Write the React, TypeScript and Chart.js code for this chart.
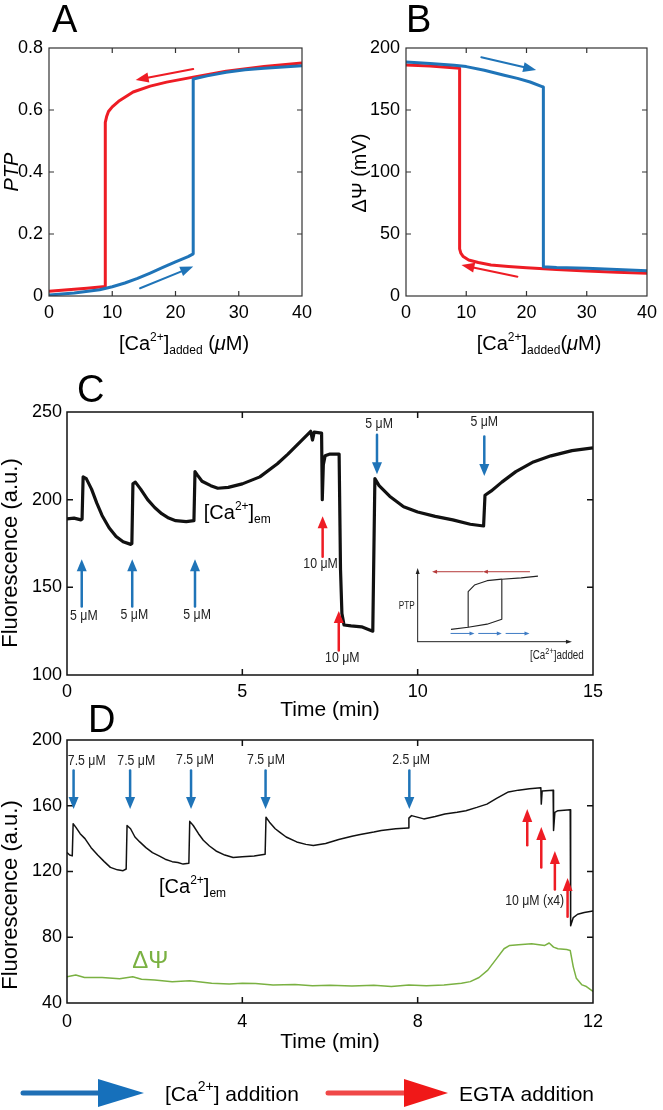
import React, { useEffect, useRef } from "react";
import { Chart, registerables } from "chart.js";

Chart.register(...registerables);

const FONT = "'Liberation Sans', Arial, Helvetica, sans-serif";
const NARROW = "'Liberation Sans', Arial, sans-serif";
const NARROW_SCALE = 0.82;
const BLUE = "#1f74b8";
const RED = "#ee1c24";
const GREEN = "#7ab142";
const INK = "#111111";

// ---------------- Panel A : PTP vs [Ca2+]added ----------------
const aXTicks = [0, 10, 20, 30, 40];
const aYTicks = [0, 0.2, 0.4, 0.6, 0.8];
const aCaRising: [number, number][] = [
  [0, 0.003], [4, 0.01], [8, 0.02], [10, 0.03], [12, 0.042], [14, 0.057], [16, 0.074],
  [18, 0.092], [20, 0.11], [22, 0.127], [22.8, 0.136], [22.8, 0.7], [25, 0.71], [28, 0.722],
  [31, 0.73], [34, 0.735], [37, 0.739], [40, 0.743],
];
const aCaFalling: [number, number][] = [
  [40, 0.752], [34, 0.74], [28, 0.725], [22.8, 0.706], [18.6, 0.69], [16, 0.677], [13.3, 0.658],
  [11, 0.628], [10, 0.61], [9.4, 0.595], [9.1, 0.578], [8.9, 0.56], [8.9, 0.031], [6, 0.025],
  [3, 0.02], [0, 0.015],
];
const aArrowAdd: [number, number][] = [[14.4, 0.025], [22.8, 0.095]];
const aArrowRemove: [number, number][] = [[22.8, 0.732], [13.7, 0.697]];

// ---------------- Panel B : ΔΨ vs [Ca2+]added ----------------
const bXTicks = [0, 10, 20, 30, 40];
const bYTicks = [0, 50, 100, 150, 200];
const bCaRising: [number, number][] = [
  [0, 188.7], [4, 187.5], [8, 186], [10, 185], [13, 182], [16.3, 178], [18.5, 175.5],
  [20.6, 172.6], [22.8, 168.5], [22.8, 23.6], [25, 23], [30, 22.3], [35, 21.3], [40, 20.3],
];
const bCaFalling: [number, number][] = [
  [40, 18.3], [35, 19.2], [30, 20.2], [25, 21.4], [20, 22.8], [17, 23.8], [14.1, 25], [12, 27],
  [10.4, 29], [9.5, 31.8], [9.1, 34.5], [8.9, 38], [8.9, 183.6], [4, 185.5], [0, 186.3],
];
const bArrowAdd: [number, number][] = [[12.5, 192.5], [21.6, 182.3]];
const bArrowRemove: [number, number][] = [[18.5, 15.6], [9.2, 25]];

// ---------------- Panel C : fluorescence trace ----------------
const cXTicks = [0, 5, 10, 15];
const cYTicks = [100, 150, 200, 250];
const cTrace: [number, number][] = [
  [0, 189], [0.2, 189.5], [0.4, 188.5], [0.43, 189], [0.46, 213], [0.55, 212], [0.7, 206],
  [0.85, 198], [1.0, 191], [1.2, 184], [1.4, 179], [1.6, 176], [1.82, 174.5], [1.85, 175],
  [1.88, 209], [1.95, 210], [2.1, 206], [2.3, 200], [2.5, 195.5], [2.7, 192], [2.9, 189.5],
  [3.1, 188], [3.4, 187.5], [3.62, 188], [3.65, 216], [3.72, 214], [3.85, 210.5], [4.1, 208],
  [4.3, 206.5], [4.6, 207], [5.0, 209], [5.5, 213], [6.0, 220.5], [6.3, 226], [6.6, 232],
  [6.85, 237], [6.95, 239], [7.0, 234], [7.05, 238.5], [7.26, 238], [7.28, 200], [7.31, 220],
  [7.36, 225], [7.5, 226], [7.76, 226], [7.8, 160], [7.84, 135], [7.9, 128.5], [8.1, 128],
  [8.4, 127.5], [8.72, 125], [8.78, 212], [8.9, 208], [9.2, 202], [9.6, 196], [10.0, 193],
  [10.5, 190.5], [11.0, 188.5], [11.5, 186], [11.88, 185], [11.92, 202.5], [12.1, 205],
  [12.4, 210], [12.8, 216], [13.3, 221.5], [13.8, 225], [14.4, 228], [15, 229.5],
];
// arrows: x, tail y, head y ; labels: text, x, y
const cCaArrows: [number, number, number][] = [
  [0.42, 139, 166], [1.86, 139, 166], [3.65, 139, 166], [8.84, 237, 214.5], [11.9, 236, 213.5],
];
const cCaLabels: [string, number, number][] = [
  ["5 μM", 0.48, 134], ["5 μM", 1.92, 134.5], ["5 μM", 3.71, 134.5], ["5 μM", 8.9, 243.4],
  ["5 μM", 11.9, 244.3],
];
const cEgtaArrows: [number, number, number][] = [[7.29, 167.5, 190.5], [7.75, 114, 136.5]];
const cEgtaLabels: [string, number, number][] = [["10 μM", 7.23, 163.5], ["10 μM", 7.85, 110]];
const cEmLabel: [number, number] = [3.9, 193];
// inset hysteresis sketch (in panel C data units)
const cInsetOpen: [number, number][] = [
  [10.95, 126], [11.44, 127.2], [11.98, 129], [12.4, 131.8], [12.4, 154.6], [12.95, 155.4], [13.43, 156.4],
];
const cInsetClose: [number, number][] = [
  [11.44, 127.2], [11.44, 147.5], [11.62, 151.3], [11.98, 153.8], [12.4, 154.7],
];
const cInsetAxes = { x0: 10.0, y0: 119, xEnd: 14.4, yEnd: 161 };
const cInsetRedArrows: [number, number][] = [[13.19, 11.86], [11.86, 10.41]];
const cInsetRedY = 158.9;
const cInsetBlueArrows: [number, number][] = [[10.95, 11.62], [11.74, 12.4], [12.52, 13.19]];
const cInsetBlueY = 123.7;
const cInsetPTP: [number, number] = [9.69, 139];
const cInsetCa: [number, number] = [13.97, 111.4];

// ---------------- Panel D : fluorescence traces ----------------
const dXTicks = [0, 4, 8, 12];
const dYTicks = [40, 80, 120, 160, 200];
const dCaTrace: [number, number][] = [
  [0, 131.5], [0.06, 130], [0.12, 129.5], [0.14, 149], [0.2, 147], [0.3, 143], [0.41, 140],
  [0.55, 134.5], [0.7, 130], [0.85, 126], [0.99, 122.5], [1.15, 121], [1.28, 120.5], [1.35, 121.5],
  [1.37, 148], [1.45, 146], [1.55, 141], [1.66, 138], [1.8, 134.5], [1.95, 131.5], [2.1, 129.5],
  [2.24, 127.5], [2.4, 126], [2.53, 125.5], [2.65, 124.5], [2.78, 125], [2.8, 150.5], [2.88, 148],
  [3.0, 143], [3.11, 139], [3.25, 135.5], [3.4, 132.5], [3.6, 130], [3.79, 128.5], [4.0, 129],
  [4.27, 129.5], [4.52, 130.5], [4.54, 153], [4.62, 150], [4.75, 146], [4.85, 144], [5.0, 141],
  [5.24, 138], [5.45, 136.5], [5.62, 135.8], [5.9, 137], [6.2, 139.5], [6.5, 141.5], [6.69, 142.5],
  [7.0, 144], [7.17, 145], [7.5, 146], [7.78, 146.5], [7.8, 152.5], [7.86, 154], [8.14, 152],
  [8.4, 153.5], [8.62, 155], [8.9, 156], [9.1, 157], [9.35, 159], [9.58, 161], [9.8, 164.5],
  [10.07, 168.4], [10.3, 169.5], [10.55, 170.4], [10.81, 171], [10.82, 161], [10.84, 169],
  [11.09, 169.4], [11.1, 145], [11.13, 156], [11.2, 157], [11.48, 157.5], [11.49, 87], [11.55, 92],
  [11.65, 94], [11.8, 95], [12, 96],
];
const dPsiTrace: [number, number][] = [
  [0, 56], [0.2, 57], [0.4, 55.5], [0.8, 55.5], [1.2, 54.8], [1.5, 56], [1.7, 54.5], [2.0, 54],
  [2.4, 53], [2.8, 53.5], [3.0, 53], [3.3, 52], [3.7, 51.5], [4.0, 52], [4.3, 51.8], [4.7, 51],
  [5.2, 51.2], [5.6, 50.5], [6.0, 50.8], [6.5, 50.3], [7.0, 50.8], [7.4, 50], [7.8, 51], [8.2, 50.5],
  [8.6, 51], [9.0, 52], [9.2, 53], [9.4, 55.5], [9.6, 60], [9.8, 67], [9.97, 73], [10.1, 75],
  [10.3, 75.5], [10.6, 76], [10.9, 75], [11.0, 76.5], [11.1, 74], [11.2, 73], [11.4, 72.5],
  [11.48, 72], [11.55, 62], [11.62, 55], [11.75, 51], [11.85, 50], [12, 47],
];
const dCaArrows: [number, number, number][] = [
  [0.15, 181.5, 158], [1.44, 181.5, 158], [2.83, 181.5, 158], [4.53, 181.5, 158], [7.81, 181.5, 158],
];
const dCaLabels: [string, number, number][] = [
  ["7.5 μM", 0.45, 187.5], ["7.5 μM", 1.58, 187.5], ["7.5 μM", 2.92, 187.8], ["7.5 μM", 4.54, 187.8],
  ["2.5 μM", 7.85, 188],
];
const dEgtaArrows: [number, number, number][] = [
  [10.5, 136, 158], [10.82, 122.5, 147], [11.13, 109, 132.5], [11.42, 92.5, 116],
];
const dEgtaLabel: [string, number, number] = ["10 μM (x4)", 10.67, 102];
const dEmLabel: [number, number] = [2.1, 111.3];
const dPsiLabel: [number, number] = [1.49, 65.5];

// ---------------- helpers ----------------
type Seg = { t: string; size: number; dy?: number; italic?: boolean; family?: string };
const fontOf = (s: Seg) => `${s.italic ? "italic " : ""}${s.size}px ${s.family || FONT}`;

function drawRich(ctx: CanvasRenderingContext2D, segs: Seg[], x: number, y: number, align: "left" | "center", color: string, sx = 1) {
  ctx.save();
  ctx.fillStyle = color;
  ctx.textAlign = "left";
  ctx.textBaseline = "alphabetic";
  let w = 0;
  for (const s of segs) {
    ctx.font = fontOf(s);
    w += ctx.measureText(s.t).width;
  }
  ctx.translate(x, y);
  ctx.scale(sx, 1);
  let cx = align === "center" ? -w / 2 : 0;
  for (const s of segs) {
    ctx.font = fontOf(s);
    ctx.fillText(s.t, cx, s.dy || 0);
    cx += ctx.measureText(s.t).width;
  }
  ctx.restore();
}

function drawArrow(ctx: CanvasRenderingContext2D, x1: number, y1: number, x2: number, y2: number, color: string, lw: number, hl: number, hw: number, headColor?: string) {
  const ang = Math.atan2(y2 - y1, x2 - x1);
  const bx = x2 - hl * Math.cos(ang);
  const by = y2 - hl * Math.sin(ang);
  ctx.save();
  ctx.strokeStyle = color;
  ctx.lineWidth = lw;
  ctx.lineCap = "round";
  ctx.beginPath();
  ctx.moveTo(x1, y1);
  ctx.lineTo(bx + Math.cos(ang), by + Math.sin(ang));
  ctx.stroke();
  ctx.fillStyle = headColor || color;
  ctx.beginPath();
  ctx.moveTo(x2, y2);
  ctx.lineTo(bx + (hw / 2) * Math.sin(ang), by - (hw / 2) * Math.cos(ang));
  ctx.lineTo(bx - (hw / 2) * Math.sin(ang), by + (hw / 2) * Math.cos(ang));
  ctx.closePath();
  ctx.fill();
  ctx.restore();
}

function vText(ctx: CanvasRenderingContext2D, text: string, x: number, y: number, font: string) {
  ctx.save();
  ctx.translate(x, y);
  ctx.rotate(-Math.PI / 2);
  ctx.font = font;
  ctx.fillStyle = "#000";
  ctx.textAlign = "center";
  ctx.textBaseline = "middle";
  ctx.fillText(text, 0, 0);
  ctx.restore();
}

function hText(ctx: CanvasRenderingContext2D, text: string, x: number, y: number, font: string, color = "#000", align: CanvasTextAlign = "center", sx = 1) {
  ctx.save();
  ctx.translate(x, y);
  ctx.scale(sx, 1);
  ctx.font = font;
  ctx.fillStyle = color;
  ctx.textAlign = align;
  ctx.textBaseline = "middle";
  ctx.fillText(text, 0, 0);
  ctx.restore();
}

function letter(ctx: CanvasRenderingContext2D, t: string, x: number, y: number) {
  ctx.save();
  ctx.font = `38px ${FONT}`;
  ctx.fillStyle = "#000";
  ctx.textAlign = "left";
  ctx.textBaseline = "alphabetic";
  ctx.fillText(t, x, y);
  ctx.restore();
}

function framePlugin(color: string, lw: number, tickLen: number) {
  return {
    id: "frame",
    afterDatasetsDraw(chart: any) {
      const { ctx, chartArea: a, scales } = chart;
      ctx.save();
      ctx.strokeStyle = color;
      ctx.lineWidth = lw;
      ctx.strokeRect(a.left, a.top, a.right - a.left, a.bottom - a.top);
      ctx.beginPath();
      for (const t of scales.x.ticks) {
        const p = scales.x.getPixelForValue(t.value);
        if (p <= a.left + 1 || p >= a.right - 1) continue;
        ctx.moveTo(p, a.bottom);
        ctx.lineTo(p, a.bottom - tickLen);
        ctx.moveTo(p, a.top);
        ctx.lineTo(p, a.top + tickLen);
      }
      for (const t of scales.y.ticks) {
        const p = scales.y.getPixelForValue(t.value);
        if (p >= a.bottom - 1 || p <= a.top + 1) continue;
        ctx.moveTo(a.left, p);
        ctx.lineTo(a.left + tickLen, p);
        ctx.moveTo(a.right, p);
        ctx.lineTo(a.right - tickLen, p);
      }
      ctx.stroke();
      ctx.restore();
    },
  };
}

type Area = { l: number; r: number; t: number; b: number };

function makeOptions(xTicks: number[], yTicks: number[], area: Area, w: number, h: number, xPad: number, yPad: number) {
  const tickFont = { family: FONT, size: 18 };
  return {
    responsive: false,
    animation: false as const,
    devicePixelRatio: 1,
    layout: { padding: { left: 0, top: area.t, right: w - area.r, bottom: 0 } },
    plugins: { legend: { display: false }, tooltip: { enabled: false }, title: { display: false } },
    elements: { point: { radius: 0 }, line: { tension: 0 } },
    scales: {
      x: {
        type: "linear" as const,
        min: xTicks[0],
        max: xTicks[xTicks.length - 1],
        afterBuildTicks: (s: any) => {
          s.ticks = xTicks.map((v) => ({ value: v }));
        },
        afterFit: (s: any) => {
          s.height = h - area.b;
        },
        ticks: { font: tickFont, color: "#000", padding: xPad, maxRotation: 0, autoSkip: false, callback: (v: any) => String(v) },
        grid: { display: false, drawTicks: false },
        border: { display: false },
      },
      y: {
        type: "linear" as const,
        min: yTicks[0],
        max: yTicks[yTicks.length - 1],
        afterBuildTicks: (s: any) => {
          s.ticks = yTicks.map((v) => ({ value: v }));
        },
        afterFit: (s: any) => {
          s.width = area.l;
        },
        ticks: { font: tickFont, color: "#000", padding: yPad, autoSkip: false, callback: (v: any) => String(v) },
        grid: { display: false, drawTicks: false },
        border: { display: false },
      },
    },
  };
}

const toXY = (pts: [number, number][]) => pts.map(([x, y]) => ({ x, y }));

const lineDs = (pts: [number, number][], color: string, width: number) => ({
  type: "line" as const,
  data: toXY(pts),
  borderColor: color,
  backgroundColor: color,
  borderWidth: width,
  pointRadius: 0,
  fill: false,
  tension: 0,
  borderJoinStyle: "round" as const,
});

const caAddedTitle = (spaced: boolean): Seg[] => [
  { t: "[Ca", size: 20 },
  { t: "2+", size: 12, dy: -9 },
  { t: "]", size: 20 },
  { t: "added", size: 12, dy: 4 },
  { t: spaced ? " (" : "(", size: 20 },
  { t: "μ", size: 20, italic: true },
  { t: "M)", size: 20 },
];

const emSegs: Seg[] = [
  { t: "[Ca", size: 20 },
  { t: "2+", size: 12, dy: -9 },
  { t: "]", size: 20 },
  { t: "em", size: 12, dy: 4 },
];

// ---------------- chart configs ----------------
function configA() {
  const area = { l: 49, r: 302, t: 48, b: 296 };
  const w = 331, h = 360;
  return {
    type: "line" as const,
    data: { datasets: [lineDs(aCaRising, BLUE, 3), lineDs(aCaFalling, RED, 3)] },
    options: makeOptions(aXTicks, aYTicks, area, w, h, 6, 6),
    plugins: [
      framePlugin("#333", 1.2, 5),
      {
        id: "panelA",
        afterDraw(chart: any) {
          const { ctx } = chart;
          const sx = chart.scales.x, sy = chart.scales.y;
          const P = (p: [number, number]) => [sx.getPixelForValue(p[0]), sy.getPixelForValue(p[1])];
          const [a1, a2] = [P(aArrowAdd[0]), P(aArrowAdd[1])];
          drawArrow(ctx, a1[0], a1[1], a2[0], a2[1], BLUE, 2, 13, 10);
          const [r1, r2] = [P(aArrowRemove[0]), P(aArrowRemove[1])];
          drawArrow(ctx, r1[0], r1[1], r2[0], r2[1], RED, 2, 13, 10);
          letter(ctx, "A", 52, 32);
          vText(ctx, "PTP", 12, 172, `italic 20px ${FONT}`);
          drawRich(ctx, caAddedTitle(true), 184, 350, "center", "#000");
        },
      },
    ],
  };
}

function configB() {
  const area = { l: 75, r: 322, t: 48, b: 296 };
  const w = 332, h = 360;
  return {
    type: "line" as const,
    data: { datasets: [lineDs(bCaRising, BLUE, 3), lineDs(bCaFalling, RED, 3)] },
    options: makeOptions(bXTicks, bYTicks, area, w, h, 6, 6),
    plugins: [
      framePlugin("#333", 1.2, 5),
      {
        id: "panelB",
        afterDraw(chart: any) {
          const { ctx } = chart;
          const sx = chart.scales.x, sy = chart.scales.y;
          const P = (p: [number, number]) => [sx.getPixelForValue(p[0]), sy.getPixelForValue(p[1])];
          const [a1, a2] = [P(bArrowAdd[0]), P(bArrowAdd[1])];
          drawArrow(ctx, a1[0], a1[1], a2[0], a2[1], BLUE, 2, 13, 10);
          const [r1, r2] = [P(bArrowRemove[0]), P(bArrowRemove[1])];
          drawArrow(ctx, r1[0], r1[1], r2[0], r2[1], RED, 2, 13, 10);
          letter(ctx, "B", 75, 32);
          vText(ctx, "ΔΨ (mV)", 29, 173, `20px ${FONT}`);
          drawRich(ctx, caAddedTitle(false), 208, 350, "center", "#000");
        },
      },
    ],
  };
}

function configC() {
  const area = { l: 67, r: 593, t: 42, b: 305 };
  const w = 663, h = 350;
  return {
    type: "line" as const,
    data: {
      datasets: [
        lineDs(cTrace, INK, 3.2),
        lineDs(cInsetOpen, "#222", 1.1),
        lineDs(cInsetClose, "#222", 1.1),
      ],
    },
    options: makeOptions(cXTicks, cYTicks, area, w, h, 6, 5),
    plugins: [
      framePlugin("#111", 1.5, 6),
      {
        id: "panelC",
        afterDraw(chart: any) {
          const { ctx } = chart;
          const sx = chart.scales.x, sy = chart.scales.y;
          const X = (v: number) => sx.getPixelForValue(v);
          const Y = (v: number) => sy.getPixelForValue(v);
          for (const [x, y0, y1] of cCaArrows) drawArrow(ctx, X(x), Y(y0), X(x), Y(y1), BLUE, 2.5, 12, 10);
          for (const [t, x, y] of cCaLabels) hText(ctx, t, X(x), Y(y), `15px ${NARROW}`, "#222", "center", NARROW_SCALE);
          for (const [x, y0, y1] of cEgtaArrows) drawArrow(ctx, X(x), Y(y0), X(x), Y(y1), RED, 2.5, 12, 10);
          for (const [t, x, y] of cEgtaLabels) hText(ctx, t, X(x), Y(y), `15px ${NARROW}`, "#222", "center", NARROW_SCALE);
          drawRich(ctx, emSegs, X(cEmLabel[0]), Y(cEmLabel[1]) + 7, "left", "#000");
          // inset axes
          const ix0 = X(cInsetAxes.x0), iy0 = Y(cInsetAxes.y0);
          drawArrow(ctx, ix0, iy0, ix0, Y(cInsetAxes.yEnd), "#222", 1, 6, 4);
          drawArrow(ctx, ix0, iy0, X(cInsetAxes.xEnd), iy0, "#222", 1, 6, 4);
          for (const [x1, x2] of cInsetRedArrows) drawArrow(ctx, X(x1), Y(cInsetRedY), X(x2), Y(cInsetRedY), "#b53a3a", 1, 5, 4);
          for (const [x1, x2] of cInsetBlueArrows) drawArrow(ctx, X(x1), Y(cInsetBlueY), X(x2), Y(cInsetBlueY), "#3f7cc4", 1, 5, 4);
          hText(ctx, "PTP", X(cInsetPTP[0]), Y(cInsetPTP[1]), `10px ${NARROW}`, "#222", "center", NARROW_SCALE);
          drawRich(
            ctx,
            [
              { t: "[Ca", size: 12, family: NARROW },
              { t: "2+", size: 9, dy: -5, family: NARROW },
              { t: "]added", size: 12, family: NARROW },
            ],
            X(cInsetCa[0]),
            Y(cInsetCa[1]) + 4,
            "center",
            "#222",
            NARROW_SCALE
          );
          letter(ctx, "C", 77, 32);
          vText(ctx, "Fluorescence (a.u.)", 11, 183, `22px ${FONT}`);
          hText(ctx, "Time (min)", 330, 340, `21px ${FONT}`);
        },
      },
    ],
  };
}

function configD() {
  const area = { l: 67, r: 593, t: 40, b: 303 };
  const w = 663, h = 410;
  return {
    type: "line" as const,
    data: { datasets: [lineDs(dPsiTrace, GREEN, 1.5), lineDs(dCaTrace, INK, 1.5)] },
    options: makeOptions(dXTicks, dYTicks, area, w, h, 8, 5),
    plugins: [
      framePlugin("#111", 1.5, 6),
      {
        id: "panelD",
        afterDraw(chart: any) {
          const { ctx } = chart;
          const sx = chart.scales.x, sy = chart.scales.y;
          const X = (v: number) => sx.getPixelForValue(v);
          const Y = (v: number) => sy.getPixelForValue(v);
          for (const [x, y0, y1] of dCaArrows) drawArrow(ctx, X(x), Y(y0), X(x), Y(y1), BLUE, 2.5, 12, 10);
          for (const [t, x, y] of dCaLabels) hText(ctx, t, X(x), Y(y), `15px ${NARROW}`, "#222", "center", NARROW_SCALE);
          for (const [x, y0, y1] of dEgtaArrows) drawArrow(ctx, X(x), Y(y0), X(x), Y(y1), RED, 2.5, 13, 10);
          hText(ctx, dEgtaLabel[0], X(dEgtaLabel[1]), Y(dEgtaLabel[2]), `15px ${NARROW}`, "#222", "center", NARROW_SCALE);
          drawRich(ctx, emSegs, X(dEmLabel[0]), Y(dEmLabel[1]) + 7, "left", "#000");
          hText(ctx, "ΔΨ", X(dPsiLabel[0]), Y(dPsiLabel[1]), `24px ${FONT}`, GREEN, "left");
          letter(ctx, "D", 88, 32);
          vText(ctx, "Fluorescence (a.u.)", 11, 195, `22px ${FONT}`);
          hText(ctx, "Time (min)", 330, 342, `21px ${FONT}`);
          // legend
          const ly = 393;
          drawArrow(ctx, 23, ly, 144, ly, "#1f6fb5", 5, 46, 28, "#1670bb");
          drawRich(
            ctx,
            [
              { t: "[Ca", size: 21 },
              { t: "2+", size: 14, dy: -10 },
              { t: "] addition", size: 21 },
            ],
            165,
            ly + 8,
            "left",
            "#000"
          );
          drawArrow(ctx, 328, ly, 448, ly, "#f04848", 5, 44, 28, "#f01818");
          drawRich(ctx, [{ t: "EGTA addition", size: 21 }], 459, ly + 8, "left", "#000");
        },
      },
    ],
  };
}

function Panel({ left, top, width, height, make }: { left: number; top: number; width: number; height: number; make: () => any }) {
  const ref = useRef<HTMLCanvasElement | null>(null);
  useEffect(() => {
    if (!ref.current) return;
    const chart = new Chart(ref.current, make());
    return () => chart.destroy();
  }, []);
  return (
    <canvas
      ref={ref}
      width={width}
      height={height}
      style={{ position: "absolute", left, top, width, height, display: "block" }}
    />
  );
}

export default function App() {
  return (
    <div style={{ position: "absolute", left: 0, top: 0, width: 663, height: 1110, background: "#fff", overflow: "hidden" }}>
      <Panel left={0} top={0} width={331} height={360} make={configA} />
      <Panel left={331} top={0} width={332} height={360} make={configB} />
      <Panel left={0} top={370} width={663} height={350} make={configC} />
      <Panel left={0} top={700} width={663} height={410} make={configD} />
    </div>
  );
}
